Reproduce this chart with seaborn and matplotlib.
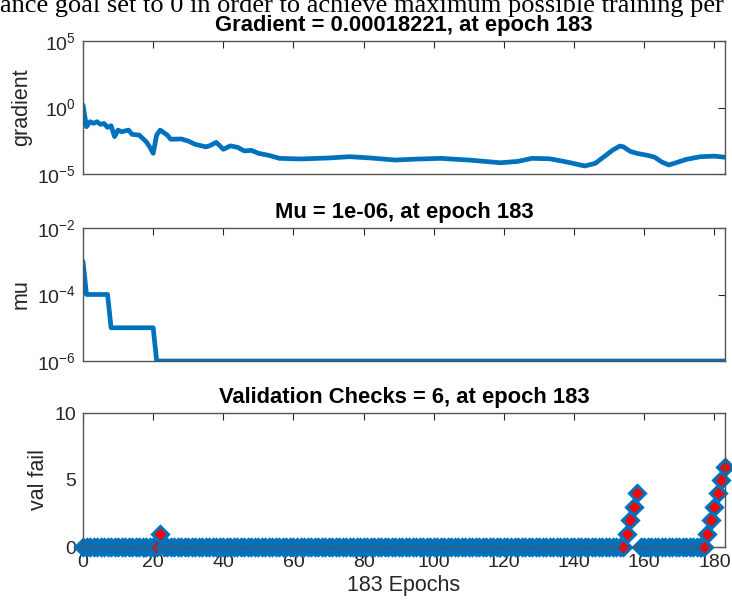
import matplotlib
matplotlib.use("Agg")
import matplotlib.pyplot as plt
import matplotlib.ticker as mticker
import seaborn as sns
import pandas as pd

# gradient
grad_epochs = [0, 1, 2, 3, 4, 5, 6, 7, 8, 9, 10, 11, 13, 14, 16, 18, 19, 20,
               21, 22, 24, 25, 28, 30, 32, 35, 36, 38, 40, 42, 44, 46, 48, 50,
               53, 56, 62, 70, 76, 82, 89, 95, 102, 110, 119, 124, 128, 133,
               138, 143, 146, 149, 151, 153, 154, 156, 158, 161, 163, 165, 167,
               169, 172, 176, 180, 183]
grad_values = [1.55, 0.036, 0.085, 0.065, 0.085, 0.054, 0.063, 0.032, 0.043,
               0.0065, 0.020, 0.015, 0.020, 0.0095, 0.0085, 0.0027, 0.0011,
               0.00036, 0.0085, 0.020, 0.0085, 0.0041, 0.0043, 0.0030, 0.0017,
               0.0011, 0.0013, 0.0024, 0.00072, 0.0013, 0.00102, 0.00054,
               0.0006, 0.00036, 0.00025, 0.00015, 0.000135, 0.00016, 0.0002,
               0.00016, 0.000112, 0.000132, 0.00015, 0.000112, 0.00007,
               0.000089, 0.00015, 0.00014, 0.000079, 0.00004, 0.000063,
               0.00025, 0.00063, 0.00126, 0.00112, 0.0005, 0.00035, 0.00025,
               0.00018, 0.000079, 0.000048, 0.00007, 0.000126, 0.0002,
               0.00022, 0.00018221]

# mu steps
mu_epochs = [0, 1, 7, 8, 20, 21, 183]
mu_values = [1e-3, 1e-4, 1e-4, 1e-5, 1e-5, 1e-6, 1e-6]

# validation failures, one per epoch 0..183
val_fail = [0, 0, 0, 0, 0, 0, 0, 0, 0, 0, 0, 0, 0, 0, 0, 0, 0, 0, 0, 0,
            0, 0, 1, 0, 0, 0, 0, 0, 0, 0, 0, 0, 0, 0, 0, 0, 0, 0, 0, 0,
            0, 0, 0, 0, 0, 0, 0, 0, 0, 0, 0, 0, 0, 0, 0, 0, 0, 0, 0, 0,
            0, 0, 0, 0, 0, 0, 0, 0, 0, 0, 0, 0, 0, 0, 0, 0, 0, 0, 0, 0,
            0, 0, 0, 0, 0, 0, 0, 0, 0, 0, 0, 0, 0, 0, 0, 0, 0, 0, 0, 0,
            0, 0, 0, 0, 0, 0, 0, 0, 0, 0, 0, 0, 0, 0, 0, 0, 0, 0, 0, 0,
            0, 0, 0, 0, 0, 0, 0, 0, 0, 0, 0, 0, 0, 0, 0, 0, 0, 0, 0, 0,
            0, 0, 0, 0, 0, 0, 0, 0, 0, 0, 0, 0, 0, 0, 0, 1, 2, 3, 4, 0,
            0, 0, 0, 0, 0, 0, 0, 0, 0, 0, 0, 0, 0, 0, 0, 0, 0, 0, 1, 2,
            3, 4, 5, 6]
val_epochs = list(range(len(val_fail)))

xticks = [0, 20, 40, 60, 80, 100, 120, 140, 160, 180]
titles = ["Gradient = 0.00018221, at epoch 183",
          "Mu = 1e-06, at epoch 183",
          "Validation Checks = 6, at epoch 183"]
ylabels = ["gradient", "mu", "val fail"]
caption = "ance goal set to 0 in order to achieve maximum possible training per"

BLUE = "#0072BD"
GREY = "#262626"

sns.set_theme(style="white")
plt.rcParams["font.family"] = ["Liberation Sans", "DejaVu Sans"]

fig = plt.figure(figsize=(7.32, 6.08), dpi=100)
L, W = 83 / 732, 642 / 732
ax1 = fig.add_axes([L, 1 - 174 / 608, W, 133 / 608])
ax2 = fig.add_axes([L, 1 - 361 / 608, W, 133 / 608])
ax3 = fig.add_axes([L, 1 - 547 / 608, W, 134 / 608])

grad_df = pd.DataFrame({"epoch": grad_epochs, "gradient": grad_values})
mu_df = pd.DataFrame({"epoch": mu_epochs, "mu": mu_values})
val_df = pd.DataFrame({"epoch": val_epochs, "val": val_fail})

sns.lineplot(data=grad_df, x="epoch", y="gradient", ax=ax1, color=BLUE,
             linewidth=3.4, estimator=None, sort=False)
sns.lineplot(data=mu_df, x="epoch", y="mu", ax=ax2, color=BLUE,
             linewidth=3.4, estimator=None, sort=False)
sns.lineplot(data=val_df, x="epoch", y="val", ax=ax3, linestyle="",
             marker="D", markersize=8.3, markerfacecolor="red",
             markeredgecolor=BLUE, markeredgewidth=2.2,
             estimator=None, sort=False, clip_on=False)

ax1.set_yscale("log")
ax1.set_ylim(1e-5, 1e5)
ax1.set_yticks([1e-5, 1e0, 1e5])
ax2.set_yscale("log")
ax2.set_ylim(1e-6, 1e-2)
ax2.set_yticks([1e-6, 1e-4, 1e-2])
ax3.set_ylim(0, 10)
ax3.set_yticks([0, 5, 10])

for ax, t, yl in zip([ax1, ax2, ax3], titles, ylabels):
    ax.set_xlim(0, 183)
    ax.set_xticks(xticks)
    ax.yaxis.set_minor_locator(mticker.NullLocator())
    ax.set_title(t, fontsize=15.8, fontweight="bold", color="black", pad=7)
    ax.set_ylabel(yl, fontsize=15.5, color=GREY, labelpad=4)
    ax.set_xlabel("")
    ax.tick_params(direction="in", top=True, right=True, length=5,
                   width=0.8, color=GREY, labelcolor=GREY, labelsize=14,
                   pad=5)
    for s in ax.spines.values():
        s.set_color("#555555")
        s.set_linewidth(1.0)
    ax.set_facecolor("white")

ax1.tick_params(labelbottom=False)
ax2.tick_params(labelbottom=False)
ax3.set_xlabel("183 Epochs", fontsize=15.5, color=GREY, labelpad=3)

fig.text(0.0, 1 - 12 / 608, caption, fontsize=19, family="Liberation Serif",
         color="black", ha="left", va="baseline")

fig.savefig("out.png", dpi=100, facecolor="white")
